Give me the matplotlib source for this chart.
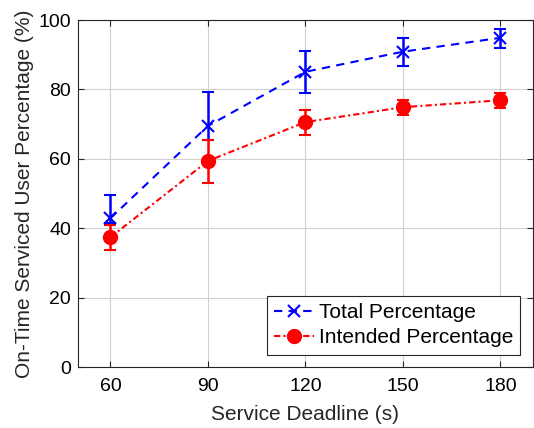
import matplotlib
matplotlib.use("Agg")
import matplotlib.pyplot as plt
import numpy as np

plt.rcParams['font.family'] = ['Liberation Sans', 'DejaVu Sans']

deadline = [60, 90, 120, 150, 180]
total = [42.9, 69.5, 85.1, 90.9, 94.9]
total_low = [41.5, 65.4, 79.1, 86.8, 91.9]
total_high = [49.7, 79.3, 91.1, 94.9, 97.4]
intended = [37.4, 59.4, 70.6, 74.9, 76.9]
intended_low = [33.7, 53.1, 66.9, 72.6, 74.7]
intended_high = [40.9, 65.4, 74.2, 76.9, 78.9]

total = np.array(total)
intended = np.array(intended)
terr = [total - np.array(total_low), np.array(total_high) - total]
ierr = [intended - np.array(intended_low), np.array(intended_high) - intended]

fig, ax = plt.subplots(figsize=(5.34, 4.28), dpi=100)
fig.subplots_adjust(left=0.146, right=0.998, top=0.953, bottom=0.1425)

blue = '#0000ff'
red = '#ff0000'

# error bars (no legend entry), then the lines for the legend
ax.errorbar(deadline, total, yerr=terr, fmt='none', ecolor=blue, elinewidth=1.8,
            capsize=4, capthick=1.5, zorder=3)
ax.errorbar(deadline, intended, yerr=ierr, fmt='none', ecolor=red, elinewidth=1.8,
            capsize=4, capthick=1.5, zorder=3)
ax.plot(deadline, total, color=blue, linestyle=(0, (4, 3)), marker='x',
        markersize=9, markeredgewidth=1.5, linewidth=1.5, label='Total Percentage', zorder=4)
ax.plot(deadline, intended, color=red, linestyle=(0, (3, 1.5, 1, 1.5)), marker='o',
        markersize=10, linewidth=1.5, label='Intended Percentage', zorder=4)

ax.set_xlim(50, 190)
ax.set_ylim(0, 100)
ax.set_xticks(deadline)
ax.set_yticks(range(0, 101, 20))
ax.grid(True, color='#d0d0d0', linewidth=0.8)
ax.set_axisbelow(True)
ax.tick_params(direction='in', top=True, right=True, labelsize=14, length=4, color='#262626')
ax.tick_params(axis='x', pad=8)
ax.tick_params(axis='y', pad=5)
for s in ax.spines.values():
    s.set_color('#262626')
    s.set_linewidth(0.8)

ax.set_xlabel('Service Deadline (s)', fontsize=15, labelpad=7, color='#262626')
ax.set_ylabel('On-Time Serviced User Percentage (%)', fontsize=15, labelpad=3, color='#262626')

leg = ax.legend(loc='lower right', fontsize=15, fancybox=False, edgecolor='#262626',
                framealpha=1, handlelength=1.9, borderpad=0.35, labelspacing=0.3,
                handletextpad=0.25, borderaxespad=0.6)
leg.get_frame().set_linewidth(0.8)

fig.savefig('out.png', dpi=100)
